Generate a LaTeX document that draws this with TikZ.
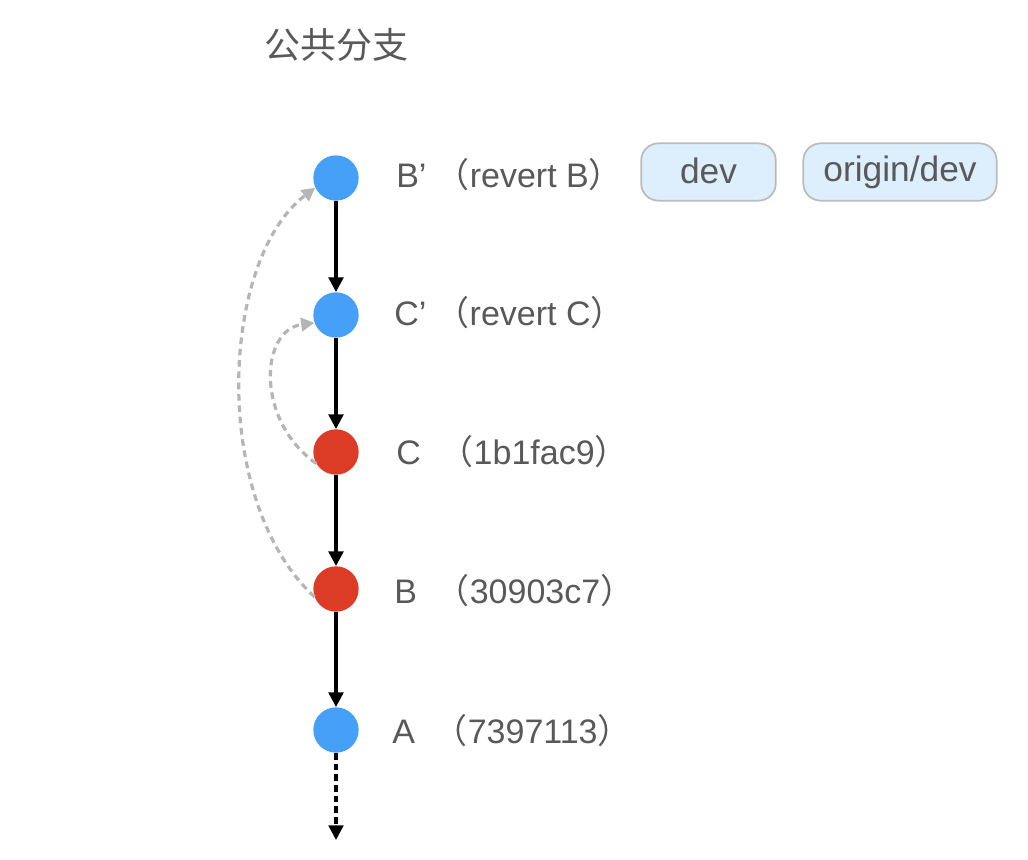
\documentclass[tikz,border=0pt]{standalone}
\usepackage{fontspec}
\setmainfont{Liberation Sans}
\newfontfamily\cjk{Noto Sans CJK SC}
\usetikzlibrary{arrows.meta}
\definecolor{cblue}{HTML}{46A0F8}
\definecolor{cred}{HTML}{DC3B26}
\definecolor{txt}{HTML}{595959}
\definecolor{tagfill}{HTML}{DDEEFD}
\definecolor{tagdraw}{HTML}{BBBBBB}
\definecolor{dgray}{HTML}{B5B5B5}
\newcommand{\lp}{{\cjk （}}
\newcommand{\rp}{{\cjk ）}}
\begin{document}
\begin{tikzpicture}[x=0.75pt,y=-0.75pt,
  commit/.style={circle,minimum size=34pt,inner sep=0pt},
  lbl/.style={anchor=west,text=txt,font=\fontsize{25.5}{28}\selectfont,inner sep=0pt},
  tag/.style={draw=tagdraw,line width=1.3pt,fill=tagfill,rounded corners=13pt,text=txt,
    font=\fontsize{26.5}{28}\selectfont,minimum height=43pt,inner sep=0pt},
  parent/.style={-{Triangle[length=11pt,width=11pt]},line width=2.4pt,black},
  revert/.style={-{Triangle[length=10pt,width=10pt]},line width=2.4pt,dgray,dash pattern=on 5pt off 3.5pt}]
\useasboundingbox (0,0) rectangle (1028,860);
\node[anchor=west,text=txt,font=\cjk\fontsize{27}{30}\selectfont,inner sep=0pt] (title) at (264,45) {公共分支};
\node[commit,fill=cblue] (Bp) at (336,178) {};
\node[commit,fill=cblue] (Cp) at (336,315) {};
\node[commit,fill=cred] (C) at (336,452) {};
\node[commit,fill=cred] (B) at (336,589) {};
\node[commit,fill=cblue] (A) at (336,730) {};
\coordinate (end) at (336,840);
\node[lbl] (lBp) at (396,175) {B’\hspace{7pt}\lp revert B\rp};
\node[lbl] (lCp) at (394,313) {C’\hspace{7pt}\lp revert C\rp};
\node[lbl] (lC) at (396,452) {C\;\;\lp 1b1fac9\rp};
\node[lbl] (lB) at (394,591) {B\;\;\lp 30903c7\rp};
\node[lbl] (lA) at (392,731) {A\;\;\lp 7397113\rp};
\node[tag,minimum width=101pt] (dev) at (708.5,172) {\raisebox{2pt}{dev}};
\node[tag,minimum width=145pt] (odev) at (900,172) {origin/dev};
\draw[parent] (Bp) -- (Cp);
\draw[parent] (Cp) -- (C);
\draw[parent] (C) -- (B);
\draw[parent] (B) -- (A);
\draw[parent,dash pattern=on 5pt off 3pt] (A) -- (end);
\draw[revert] (C.210) .. controls (255,420) and (260,330) .. (Cp.200);
\draw[revert] (B.200) .. controls (210,500) and (220,260) .. (Bp.205);
\end{tikzpicture}
\end{document}
